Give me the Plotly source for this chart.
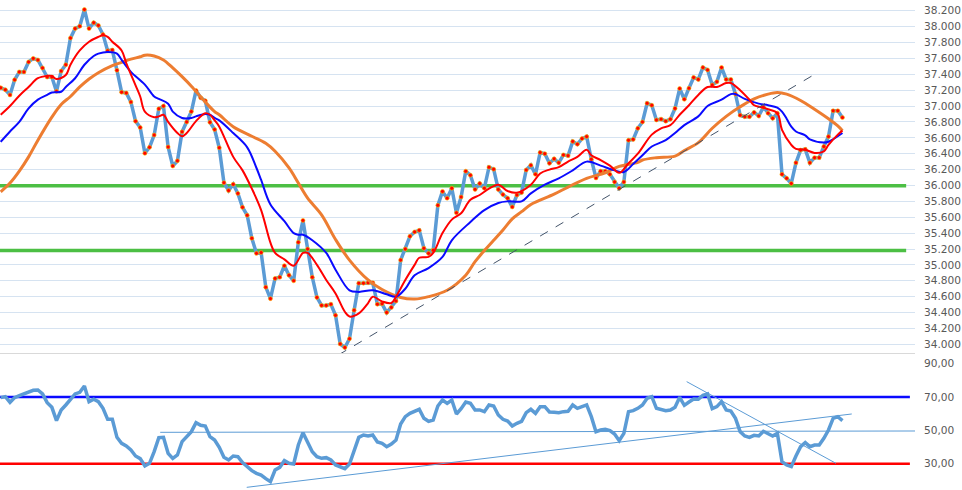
import plotly.graph_objects as go

# ---------------- data ----------------
price = [
    37.23, 37.205, 37.14, 37.33, 37.43, 37.43, 37.555, 37.6, 37.58, 37.48,
    37.365, 37.365, 37.185, 37.44, 37.52, 37.855, 37.975, 38.005, 38.215, 37.975,
    38.05, 38.015, 37.9, 37.695, 37.705, 37.45, 37.175, 37.165, 37.05, 36.81,
    36.73, 36.405, 36.48, 36.635, 36.965, 37.0, 36.485, 36.245, 36.31, 36.675,
    36.8, 36.93, 37.195, 37.105, 37.065, 36.795, 36.705, 36.475, 36.035, 35.935,
    36.015, 35.9, 35.725, 35.625, 35.335, 35.145, 35.155, 34.72, 34.575, 34.83,
    34.845, 34.99, 34.87, 34.8, 35.285, 35.56, 35.2, 34.845, 34.59, 34.49,
    34.49, 34.505, 34.365, 34.005, 33.96, 34.07, 34.43, 34.77, 34.77, 34.775,
    34.775, 34.505, 34.51, 34.4, 34.465, 34.545, 35.06, 35.2, 35.36, 35.415,
    35.435, 35.21, 35.145, 35.185, 35.75, 35.925, 35.84, 35.965, 35.655, 35.855,
    36.18, 36.13, 35.95, 36.025, 35.965, 36.23, 36.205, 35.95, 35.885, 35.84,
    35.73, 35.88, 35.91, 36.195, 36.255, 36.14, 36.415, 36.4, 36.28, 36.335,
    36.285, 36.385, 36.375, 36.555, 36.52, 36.59, 36.615, 36.33, 36.095, 36.18,
    36.18, 36.14, 36.045, 35.965, 36.045, 36.57, 36.58, 36.72, 36.8, 37.035,
    37.01, 36.825, 36.835, 36.81, 36.835, 36.97, 37.22, 37.085, 37.225, 37.36,
    37.335, 37.485, 37.455, 37.265, 37.305, 37.485, 37.335, 37.335, 37.15, 36.885,
    36.865, 36.865, 36.92, 36.875, 36.985, 36.91, 36.845, 36.91, 36.14, 36.09,
    36.025, 36.285, 36.445, 36.455, 36.285, 36.35, 36.35, 36.49, 36.615, 36.94,
    36.94, 36.855,
]

rsi = [
    69.6, 70.2, 66.8, 69.6, 70.8, 71.8, 72.6, 74.0, 74.2, 71.8,
    66.6, 63.8, 55.8, 62.2, 65.2, 68.6, 71.8, 72.8, 76.6, 67.2,
    68.6, 67.2, 63.2, 56.6, 56.6, 45.8, 42.2, 40.6, 38.2, 34.6,
    33.0, 28.6, 30.2, 37.2, 45.6, 45.8, 36.2, 33.2, 35.2, 43.2,
    46.6, 49.2, 54.6, 53.0, 52.6, 46.2, 44.2, 39.8, 33.8, 32.2,
    34.6, 34.2, 30.6, 28.2, 25.8, 24.2, 23.2, 21.0, 19.2, 26.2,
    27.8, 31.8, 30.2, 29.8, 41.2, 48.6, 42.6, 37.2, 34.2, 33.2,
    33.6, 32.2, 29.2, 28.2, 27.0, 29.8, 38.2, 45.8, 47.2, 46.6,
    47.2, 43.0, 42.2, 40.2, 41.8, 44.2, 53.8, 58.2, 60.2, 61.6,
    62.6, 57.2, 55.4, 56.2, 64.6, 68.2, 66.2, 68.2, 59.8, 63.0,
    67.0, 66.2, 62.2, 62.2, 61.2, 65.2, 64.6, 59.2, 56.6, 55.6,
    52.6, 54.2, 55.4, 60.6, 62.6, 60.2, 64.2, 64.2, 61.0, 60.8,
    60.6, 61.2, 61.4, 65.2, 63.2, 64.2, 65.2, 58.2, 49.2, 50.2,
    50.6, 49.8, 47.8, 43.8, 48.2, 61.2, 61.8, 63.2, 65.2, 69.2,
    70.2, 63.2, 62.6, 61.8, 62.2, 63.8, 69.8, 65.0, 67.0, 68.8,
    68.6, 71.0, 71.8, 63.0, 64.2, 67.2, 62.2, 61.6, 57.2, 49.2,
    46.6, 45.8, 47.0, 46.6, 49.4, 48.2, 46.6, 48.2, 31.2, 29.2,
    28.2, 34.6, 40.2, 42.6, 40.2, 41.2, 41.2, 45.2, 50.2, 57.2,
    58.2, 55.8,
]

# moving averages, read at selected bar numbers
ma_red_at = [0, 2, 4, 6, 8, 10, 11, 12, 14, 15, 17, 19, 21, 22, 23, 24, 26, 27, 29, 30,
             31, 33, 34, 35, 36, 38, 39, 40, 42, 44, 45, 46, 47, 50, 52, 54, 56, 58, 59, 61,
             63, 65, 66, 68, 70, 72, 74, 75, 77, 79, 80, 82, 84, 85, 87, 89, 90, 92, 93, 95,
             97, 99, 101, 103, 105, 107, 109, 111, 114, 116, 118, 120, 122, 124, 126, 127, 129, 131, 133, 135,
             137, 140, 142, 144, 146, 148, 150, 152, 154, 156, 157, 159, 161, 162, 164, 165, 167, 168, 170, 171,
             173, 175, 177, 178, 180, 181]
ma_red = [36.89, 37.00, 37.13, 37.24, 37.35, 37.38, 37.38, 37.34, 37.39, 37.52, 37.70, 37.81, 37.87, 37.89, 37.87, 37.81, 37.70, 37.54, 37.26, 37.12,
          36.93, 36.86, 36.87, 36.89, 36.80, 36.66, 36.62, 36.66, 36.81, 36.91, 36.89, 36.82, 36.74, 36.36, 36.19, 35.96, 35.69, 35.28, 35.15, 35.07,
          34.99, 35.15, 35.15, 35.00, 34.81, 34.64, 34.41, 34.35, 34.39, 34.52, 34.60, 34.54, 34.52, 34.60, 34.81, 35.00, 35.09, 35.10, 35.15, 35.40,
          35.57, 35.65, 35.82, 35.88, 35.96, 36.01, 35.93, 35.91, 36.01, 36.15, 36.20, 36.23, 36.30, 36.36, 36.45, 36.38, 36.32, 36.25, 36.16, 36.28,
          36.40, 36.64, 36.72, 36.76, 36.89, 37.01, 37.14, 37.24, 37.24, 37.29, 37.29, 37.20, 37.08, 37.01, 36.98, 36.96, 36.91, 36.70, 36.51, 36.46,
          36.45, 36.41, 36.43, 36.51, 36.64, 36.69]

ma_blue_at = [0, 2, 4, 6, 8, 10, 11, 13, 14, 16, 18, 20, 21, 23, 25, 26, 28, 31, 33, 34,
              36, 37, 39, 41, 42, 44, 45, 46, 47, 50, 53, 55, 56, 58, 61, 63, 64, 65, 67, 70,
              72, 75, 77, 80, 83, 85, 87, 89, 92, 95, 97, 101, 104, 107, 109, 112, 114, 117, 120, 123,
              126, 129, 132, 134, 136, 138, 140, 143, 145, 147, 150, 152, 155, 157, 158, 160, 163, 165, 167, 168,
              169, 170, 171, 173, 174, 177, 178, 181]
ma_blue = [36.55, 36.68, 36.80, 36.97, 37.08, 37.14, 37.17, 37.18, 37.24, 37.35, 37.52, 37.63, 37.66, 37.68, 37.66, 37.58, 37.43, 37.27, 37.12, 37.09,
           37.03, 36.93, 36.85, 36.85, 36.87, 36.90, 36.89, 36.85, 36.82, 36.66, 36.48, 36.22, 36.07, 35.76, 35.55, 35.40, 35.38, 35.38, 35.31, 35.15,
           34.94, 34.68, 34.66, 34.68, 34.63, 34.60, 34.70, 34.87, 34.96, 35.10, 35.31, 35.54, 35.69, 35.78, 35.80, 35.80, 35.90, 36.01, 36.09, 36.19,
           36.30, 36.25, 36.19, 36.17, 36.27, 36.38, 36.49, 36.57, 36.66, 36.76, 36.87, 37.00, 37.08, 37.15, 37.15, 37.09, 37.03, 37.01, 36.98, 36.93,
           36.84, 36.74, 36.68, 36.63, 36.58, 36.54, 36.55, 36.66]

ma_orange_at = [0, 2, 4, 6, 8, 11, 13, 15, 17, 19, 21, 24, 26, 28, 30, 31, 33, 35, 37, 39,
                41, 44, 46, 47, 50, 54, 57, 59, 62, 64, 66, 69, 72, 75, 79, 82, 86, 89, 92, 96,
                100, 102, 104, 106, 108, 110, 112, 114, 119, 122, 126, 130, 133, 137, 138, 141, 145, 147, 150, 153,
                156, 159, 162, 165, 167, 169, 172, 175, 178, 180, 181]
ma_orange = [35.92, 36.03, 36.18, 36.36, 36.57, 36.86, 37.02, 37.12, 37.24, 37.34, 37.42, 37.51, 37.55, 37.59, 37.62, 37.64, 37.63, 37.58, 37.48, 37.37,
             37.25, 37.05, 36.93, 36.89, 36.74, 36.62, 36.53, 36.43, 36.22, 36.03, 35.84, 35.63, 35.32, 35.06, 34.81, 34.69, 34.59, 34.57, 34.60, 34.68,
             34.87, 35.04, 35.18, 35.31, 35.44, 35.58, 35.67, 35.76, 35.89, 35.98, 36.09, 36.16, 36.24, 36.29, 36.32, 36.35, 36.37, 36.44, 36.54, 36.72,
             36.87, 36.99, 37.09, 37.15, 37.17, 37.15, 37.07, 36.96, 36.84, 36.75, 36.69]

support_levels = [35.995, 35.18]
support_span = [-0.15, 194.7]

trend_at = [69.3, 174.75]
trend_val = [33.752, 37.39]

rsi_levels = [70, 30]
rsi_level_span = [-0.15, 195.5]
rsi_mid_at = [34.3, 198.4]
rsi_mid_val = [48.8, 49.6]
rsi_up_at = [52.9, 183.0]
rsi_up_val = [15.8, 59.8]
rsi_down_at = [147.5, 179.6]
rsi_down_val = [79.2, 30.2]

price_tickvals = [34.0, 34.2, 34.4, 34.6, 34.8, 35.0, 35.2, 35.4, 35.6, 35.8, 36.0,
                  36.2, 36.4, 36.6, 36.8, 37.0, 37.2, 37.4, 37.6, 37.8, 38.0, 38.2]
price_ticktext = ["34.000", "34.200", "34.400", "34.600", "34.800", "35.000", "35.200",
                  "35.400", "35.600", "35.800", "36.000", "36.200", "36.400", "36.600",
                  "36.800", "37.000", "37.200", "37.400", "37.600", "37.800", "38.000", "38.200"]
rsi_tickvals = [30, 50, 70, 90]
rsi_ticktext = ["30,00", "50,00", "70,00", "90,00"]

# ---------------- figure ----------------
bars = list(range(len(price)))
fig = go.Figure()

# support lines (behind)
for lvl in support_levels:
    fig.add_trace(go.Scatter(x=support_span, y=[lvl, lvl], mode="lines",
                             line=dict(color="#4cbf44", width=3.5), hoverinfo="skip",
                             xaxis="x", yaxis="y"))

fig.add_trace(go.Scatter(x=bars, y=price, mode="lines+markers",
                         line=dict(color="#5b9bd5", width=3.5),
                         marker=dict(color="#ff0000", size=4, line=dict(color="#ffc000", width=0.6)),
                         xaxis="x", yaxis="y"))
fig.add_trace(go.Scatter(x=ma_orange_at, y=ma_orange, mode="lines", line_shape="spline",
                         line=dict(color="#ed7d31", width=3), xaxis="x", yaxis="y"))
fig.add_trace(go.Scatter(x=ma_blue_at, y=ma_blue, mode="lines", line_shape="spline",
                         line=dict(color="#0a0aff", width=2), xaxis="x", yaxis="y"))
fig.add_trace(go.Scatter(x=ma_red_at, y=ma_red, mode="lines", line_shape="spline",
                         line=dict(color="#ff0000", width=2), xaxis="x", yaxis="y"))
fig.add_trace(go.Scatter(x=trend_at, y=trend_val, mode="lines",
                         line=dict(color="#44546a", width=1, dash="dash"), xaxis="x", yaxis="y"))

# RSI panel
colors_lvl = ["#0a0aff", "#ff0000"]
for lvl, c in zip(rsi_levels, colors_lvl):
    fig.add_trace(go.Scatter(x=rsi_level_span, y=[lvl, lvl], mode="lines",
                             line=dict(color=c, width=2.5), xaxis="x2", yaxis="y2"))
for xs, ys in [(rsi_mid_at, rsi_mid_val), (rsi_up_at, rsi_up_val), (rsi_down_at, rsi_down_val)]:
    fig.add_trace(go.Scatter(x=xs, y=ys, mode="lines",
                             line=dict(color="#5b9bd5", width=1), xaxis="x2", yaxis="y2"))
fig.add_trace(go.Scatter(x=bars, y=rsi, mode="lines",
                         line=dict(color="#5b9bd5", width=3.5), xaxis="x2", yaxis="y2"))

xr = [-0.15, 196.6]
tickfont = dict(family="DejaVu Sans, Verdana, sans-serif", size=10.6, color="#595959")
fig.update_layout(
    width=962, height=490,
    margin=dict(l=0, r=47, t=0, b=0),
    paper_bgcolor="white", plot_bgcolor="white",
    showlegend=False,
    xaxis=dict(domain=[0, 1], range=xr, anchor="y", showgrid=False, zeroline=False,
               showticklabels=False, showline=True, linecolor="#d9d9d9", linewidth=1),
    yaxis=dict(domain=[0.279, 1], range=[33.887, 38.335], side="right", anchor="x",
               tickvals=price_tickvals, ticktext=price_ticktext, tickfont=tickfont,
               showgrid=True, gridcolor="#d6e3f1", gridwidth=1, zeroline=False,
               ticks="", ticklabelstandoff=8),
    xaxis2=dict(domain=[0, 1], range=xr, anchor="y2", showgrid=False, zeroline=False,
                showticklabels=False, showline=False),
    yaxis2=dict(domain=[0, 0.279], range=[14.2, 96.2], side="right", anchor="x2",
                tickvals=rsi_tickvals, ticktext=rsi_ticktext, tickfont=tickfont,
                showgrid=False, zeroline=False, ticks="", ticklabelstandoff=8),
)

fig.write_html("out.html", config={"displayModeBar": False},
               post_script="document.body.style.margin='0px';")
